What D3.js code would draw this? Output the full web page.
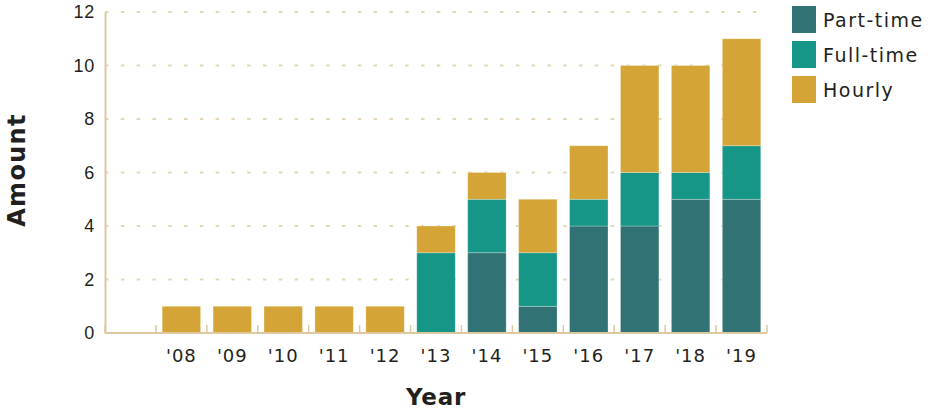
<!DOCTYPE html>
<html>
<head>
<meta charset="utf-8">
<script src="https://cdn.jsdelivr.net/npm/d3@7/dist/d3.min.js"></script>
<style>
  html, body { margin: 0; padding: 0; background: #fff; }
  svg { display: block; font-family: "DejaVu Sans", sans-serif; }
</style>
</head>
<body>
<svg id="chart" width="933" height="412"></svg>
<script>
// Years shown on the x axis (first slot is left blank)
const years = ["", "'08", "'09", "'10", "'11", "'12", "'13", "'14", "'15", "'16", "'17", "'18", "'19"];
// Positions per year, by type
const partTime = [0, 0, 0, 0, 0, 0, 0, 3, 1, 4, 4, 5, 5];
const fullTime = [0, 0, 0, 0, 0, 0, 3, 2, 2, 1, 2, 1, 2];
const hourly   = [0, 1, 1, 1, 1, 1, 1, 1, 2, 2, 4, 4, 4];
const seriesNames = ["Part-time", "Full-time", "Hourly"];
const seriesColors = ["#317275", "#159686", "#d4a536"];
const yTicks = [0, 2, 4, 6, 8, 10, 12];

const rows = years.map((yr, i) => ({
  year: yr, "Part-time": partTime[i], "Full-time": fullTime[i], "Hourly": hourly[i]
}));

const svg = d3.select("#chart");
const plotLeft = 105, plotRight = 767, plotTop = 12, plotBottom = 333;
const axisColor = "#dcc9a0";
const gridColor = "#e6d7b4";
const textColor = "#231f20";

const x = d3.scaleBand().domain(years.map((d, i) => i)).range([plotLeft, plotRight])
  .paddingInner(0.245).paddingOuter(0.1225);
const y = d3.scaleLinear().domain([0, 12]).range([plotBottom, plotTop]);
const color = d3.scaleOrdinal().domain(seriesNames).range(seriesColors);

// dashed horizontal gridlines
svg.append("g").selectAll("line").data(yTicks.filter(t => t > 0)).join("line")
  .attr("x1", plotLeft).attr("x2", plotRight)
  .attr("y1", d => y(d)).attr("y2", d => y(d))
  .attr("stroke", gridColor).attr("stroke-width", 2)
  .attr("stroke-dasharray", "3.5,12.3");

// stacked bars
const stacked = d3.stack().keys(seriesNames)(rows);
svg.append("g").selectAll("g").data(stacked).join("g")
  .attr("fill", d => color(d.key))
  .selectAll("rect").data(d => d.map((v, i) => ({ v, i })).filter(d => d.v[1] - d.v[0] > 0)).join("rect")
  .attr("x", d => x(d.i))
  .attr("width", x.bandwidth())
  .attr("y", d => y(d.v[1]))
  .attr("height", d => y(d.v[0]) - y(d.v[1]))
  .attr("stroke", "rgba(255,255,255,0.35)").attr("stroke-width", 0.8);

// y axis
const yAxis = svg.append("g").attr("transform", `translate(${plotLeft},0)`)
  .call(d3.axisLeft(y).tickValues(yTicks).tickSize(0).tickPadding(10));
yAxis.select(".domain").attr("stroke", axisColor).attr("stroke-width", 2);
yAxis.selectAll("text").attr("font-size", 18).attr("letter-spacing", 0.8).attr("fill", textColor);

// x axis with band-edge ticks
const step = x.step();
const edges = d3.range(years.length + 1).map(i => plotLeft + i * step);
const xg = svg.append("g");
xg.append("line").attr("x1", plotLeft).attr("x2", plotRight).attr("y1", plotBottom).attr("y2", plotBottom)
  .attr("stroke", axisColor).attr("stroke-width", 2);
xg.selectAll("line.tick").data(edges).join("line").attr("class", "tick")
  .attr("x1", d => d).attr("x2", d => d).attr("y1", plotBottom).attr("y2", plotBottom - 8)
  .attr("stroke", axisColor).attr("stroke-width", 1.5);
xg.selectAll("text").data(years).join("text")
  .attr("x", (d, i) => x(i) + x.bandwidth() / 2).attr("y", 362)
  .attr("text-anchor", "middle").attr("font-size", 18).attr("letter-spacing", 1)
  .attr("fill", textColor)
  .text(d => d);

// axis titles
svg.append("text").attr("x", 436).attr("y", 405).attr("text-anchor", "middle")
  .attr("font-size", 23).attr("font-weight", "bold").attr("letter-spacing", 0.8)
  .attr("fill", textColor).text("Year");
svg.append("text").attr("transform", "translate(25,170) rotate(-90)").attr("text-anchor", "middle")
  .attr("font-size", 24).attr("font-weight", "bold").attr("letter-spacing", 1.3)
  .attr("fill", textColor).text("Amount");

// legend
const legend = svg.append("g").selectAll("g").data(seriesNames).join("g")
  .attr("transform", (d, i) => `translate(792,${6 + i * 35})`);
legend.append("rect").attr("width", 24).attr("height", 27).attr("fill", d => color(d));
legend.append("text").attr("x", 31).attr("y", 21).attr("font-size", 19).attr("letter-spacing", 1.5)
  .attr("fill", textColor).text(d => d);
</script>
</body>
</html>
